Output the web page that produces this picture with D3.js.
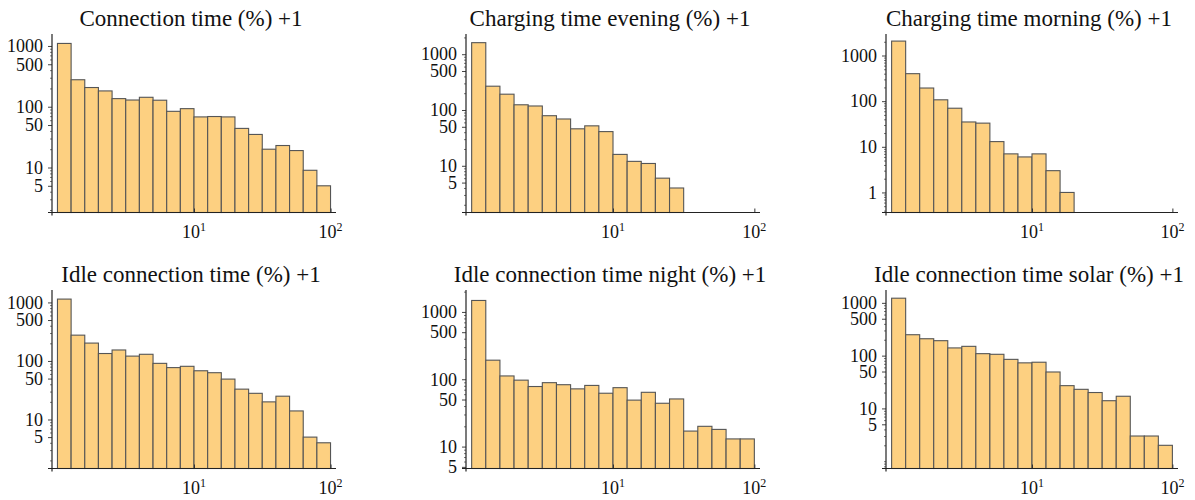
<!DOCTYPE html>
<html>
<head>
<meta charset="utf-8">
<script src="https://cdn.jsdelivr.net/npm/d3@7"></script>
<style>
  body { margin: 0; background: #fff; }
  svg { display: block; font-family: "Liberation Serif", "Times New Roman", serif; }
</style>
</head>
<body>
<svg id="chart" width="1195" height="500"></svg>
<script>
// histogram bin edges (log spaced, tenth of a decade)
var binEdges = [1, 1.259, 1.585, 1.995, 2.512, 3.162, 3.981, 5.012, 6.31, 7.943,
    10, 12.59, 15.85, 19.95, 25.12, 31.62, 39.81, 50.12, 63.1, 79.43, 100];

var connectionTime = [1100, 278, 207, 182, 136, 129, 143, 128, 84, 93, 68, 69, 68, 44, 35, 20, 23, 19, 9, 5];
var chargingEvening = [1610, 267, 192, 124, 118, 79, 69, 46, 52, 41, 16, 12, 11, 6, 4];
var chargingMorning = [2070, 400, 194, 107, 70, 35, 33, 13, 7, 6, 7, 3, 1];
var idleTime = [1140, 276, 202, 134, 154, 121, 130, 91, 77, 81, 68, 63, 49, 33, 28, 20, 25, 14, 5, 4];
var idleNight = [1480, 192, 112, 97, 78, 89, 83, 72, 81, 62, 75, 49, 64, 44, 51, 17, 20, 18, 13, 13];
var idleSolar = [1225, 249, 209, 192, 140, 150, 109, 106, 85, 73, 75, 49, 27, 23, 20, 14, 17, 3, 3, 2];

var titles = ['Connection time (%) +1', 'Charging time evening (%) +1', 'Charging time morning (%) +1',
    'Idle connection time (%) +1', 'Idle connection time night (%) +1', 'Idle connection time solar (%) +1'];

var yTicksA = [5, 10, 50, 100, 500, 1000];
var yTicksB = [1, 10, 100, 1000];
var xTicks = [10, 100];

var panels = [
    { title: titles[0], counts: connectionTime, ticks: yTicksA },
    { title: titles[1], counts: chargingEvening, ticks: yTicksA },
    { title: titles[2], counts: chargingMorning, ticks: yTicksB },
    { title: titles[3], counts: idleTime, ticks: yTicksA },
    { title: titles[4], counts: idleNight, ticks: yTicksA },
    { title: titles[5], counts: idleSolar, ticks: yTicksA }
];

var COL_X = [52, 466, 886],
    COL_W = [284, 294, 292],
    ROW_TOP = [34, 290],
    PLOT_H = 178.5;

var svg = d3.select('#chart');

// minor ticks 2..9 of every decade
function minorTicks(domain, majors) {
    var out = [];
    for (var p = -1; p <= 4; p++) {
        for (var m = 1; m <= 9; m++) {
            var v = m * Math.pow(10, p);
            if (v >= domain[0] && v <= domain[1] && majors.indexOf(v) < 0) out.push(v);
        }
    }
    return out;
}

panels.forEach(function (p, i) {
    var col = i % 3, row = Math.floor(i / 3);
    var x0 = COL_X[col], w = COL_W[col];
    var top = ROW_TOP[row], bottom = top + PLOT_H;

    var xScale = d3.scaleLog()
        .domain([Math.pow(10, -0.04), Math.pow(10, 2.04)])
        .range([x0, x0 + w]);

    var yDomain = [d3.min(p.counts) / 2.75, d3.max(p.counts) * 1.43];
    var yScale = d3.scaleLog()
        .domain(yDomain)
        .range([bottom, top]);

    var g = svg.append('g').attr('class', 'panel');

    g.append('text')
        .attr('x', x0 + w / 2 - 3)
        .attr('y', top - 8)
        .attr('text-anchor', 'middle')
        .style('font-size', '23px')
        .style('fill', '#111')
        .text(p.title);

    g.selectAll('rect.bar')
        .data(p.counts)
        .enter()
        .append('rect')
        .attr('class', 'bar')
        .attr('x', function (d, k) { return xScale(binEdges[k]); })
        .attr('width', function (d, k) { return xScale(binEdges[k + 1]) - xScale(binEdges[k]); })
        .attr('y', function (d) { return yScale(d); })
        .attr('height', function (d) { return bottom - yScale(d); })
        .style('fill', '#fdd081')
        .style('stroke', '#555')
        .style('stroke-width', 1.1);

    // y axis: major + minor ticks pointing left
    var yAxis = g.append('g')
        .attr('transform', 'translate(' + x0 + ',0)')
        .call(d3.axisLeft(yScale).tickValues(p.ticks).tickSize(4).tickPadding(5)
            .tickFormat(d3.format('d')));
    yAxis.select('.domain').remove();
    yAxis.selectAll('text').style('font-size', '18px').style('fill', '#111')
        .style('font-family', '"Liberation Serif", "Times New Roman", serif');
    yAxis.selectAll('line').style('stroke', '#444');

    var yMinor = g.append('g')
        .attr('transform', 'translate(' + x0 + ',0)')
        .call(d3.axisLeft(yScale).tickValues(minorTicks(yDomain, p.ticks)).tickSize(2).tickFormat(''));
    yMinor.select('.domain').remove();
    yMinor.selectAll('line').style('stroke', '#777');

    // x axis ticks point up, labels below
    var xAxis = g.append('g')
        .attr('transform', 'translate(0,' + bottom + ')')
        .call(d3.axisBottom(xScale).tickValues(xTicks).tickSize(-4).tickFormat(''));
    xAxis.select('.domain').remove();
    xAxis.selectAll('line').style('stroke', '#333');

    var labels = g.selectAll('text.xlab')
        .data(xTicks)
        .enter()
        .append('text')
        .attr('class', 'xlab')
        .attr('x', function (d) { return xScale(d); })
        .attr('y', bottom + 25.5)
        .attr('text-anchor', 'middle')
        .style('font-size', '18px')
        .style('fill', '#111');
    labels.append('tspan').text('10');
    labels.append('tspan')
        .attr('dy', -7)
        .style('font-size', '12px')
        .text(function (d) { return Math.round(Math.log10(d)); });

    // axis lines, crossing slightly like the original
    g.append('line')
        .attr('x1', x0 - 4).attr('x2', x0 + w)
        .attr('y1', bottom).attr('y2', bottom)
        .style('stroke', '#222').style('stroke-width', 1.2);
    g.append('line')
        .attr('x1', x0).attr('x2', x0)
        .attr('y1', top).attr('y2', bottom + 3)
        .style('stroke', '#222').style('stroke-width', 1.2);
});
</script>
</body>
</html>
